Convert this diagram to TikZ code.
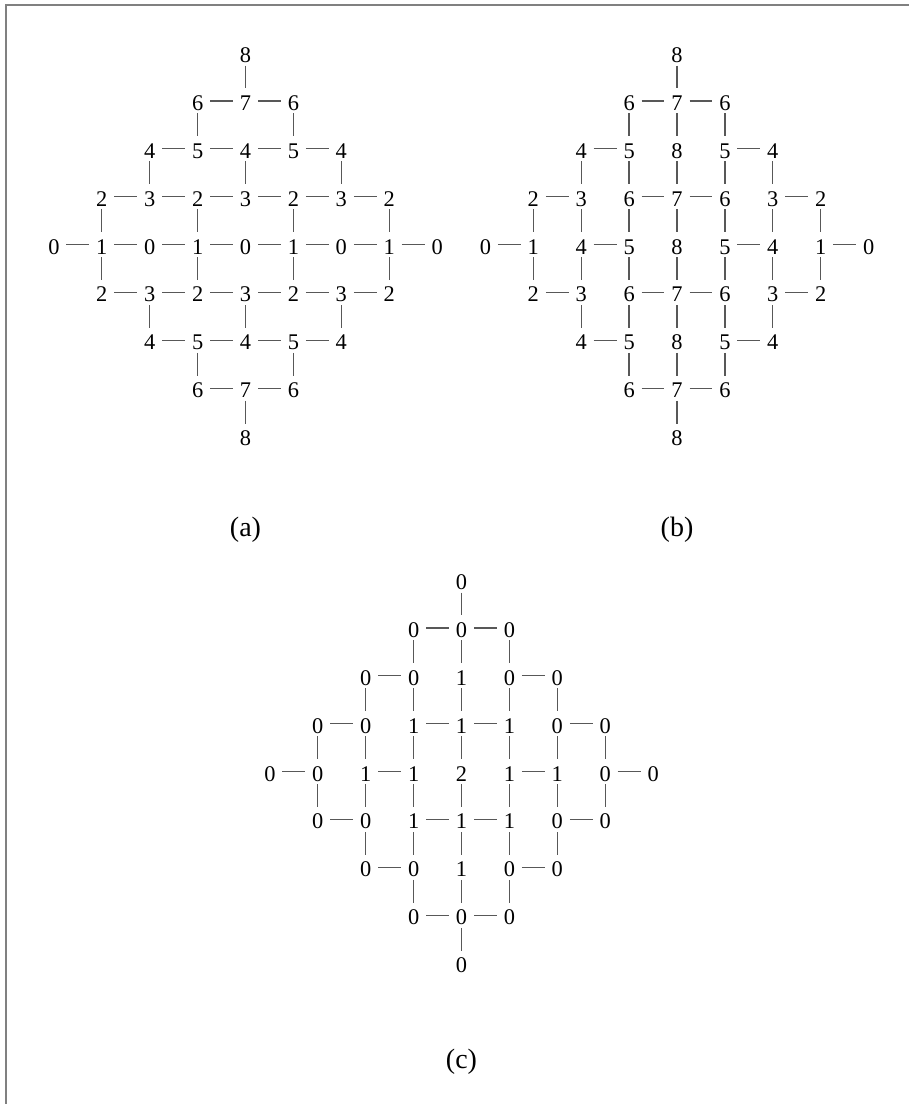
\documentclass[tikz,border=0pt]{standalone}
\usepackage{fontspec}
\setmainfont{Liberation Serif}
\definecolor{edgegray}{RGB}{88,88,88}
\definecolor{framegray}{RGB}{128,128,128}

\begin{document}
\begin{tikzpicture}[x=0.75pt,y=-0.75pt,
    num/.style={circle, inner sep=0pt, minimum size=18.4pt, text height=14.2pt, text depth=0pt,
      font=\fontsize{16.8}{20}\selectfont},
    edge/.style={edgegray, line width=1pt},
    caption/.style={font=\fontsize{21}{25}\selectfont}]
  \useasboundingbox (0,0) rectangle (909,1104);
  \draw[framegray, line width=1.5pt] (5.5,1104) -- (5.5,5) -- (909,5);

  % heights: (a) plain, (b) lifted, (c) difference
  \foreach \row in {0,...,8} {
    \pgfmathtruncatemacro\cmin{abs(\row-4)}
    \pgfmathtruncatemacro\cmax{8-abs(\row-4)}
    \foreach \col in {\cmin,...,\cmax} {
      \pgfmathtruncatemacro\ha{2*abs(\row-4)+mod(\col+\row,2)}
      \pgfmathtruncatemacro\hc{floor((4-abs(\row-4)-abs(\col-4))/2)}
      \pgfmathtruncatemacro\hb{\ha+4*\hc}
      \node[num] (a-\row-\col) at ({245.5+47.9*(\col-4)},{53+47.9*\row}) {\ha};
      \node[num] (b-\row-\col) at ({677+47.9*(\col-4)},{53+47.9*\row}) {\hb};
      \node[num] (c-\row-\col) at ({461.5+47.9*(\col-4)},{580+47.9*\row}) {\hc};
    }
  }

  % horizontal edges
  \foreach \row in {1,...,7} {
    \pgfmathtruncatemacro\cmin{abs(\row-4)}
    \pgfmathtruncatemacro\clast{7-abs(\row-4)}
    \foreach \col in {\cmin,...,\clast} {
      \pgfmathtruncatemacro\nxt{\col+1}
      \pgfmathtruncatemacro\keep{mod(2*abs(\row-4)+abs(2*\col-7)+1,4)}
      \draw[edge] (a-\row-\col) -- (a-\row-\nxt);
      \ifnum\keep=0
        \draw[edge] (b-\row-\col) -- (b-\row-\nxt);
        \draw[edge] (c-\row-\col) -- (c-\row-\nxt);
      \fi
    }
  }

  % vertical edges
  \foreach \row in {0,...,7} {
    \pgfmathtruncatemacro\nxt{\row+1}
    \pgfmathtruncatemacro\narrow{\row<4 ? \row : \nxt}
    \pgfmathtruncatemacro\cmin{abs(\narrow-4)}
    \pgfmathtruncatemacro\cmax{8-abs(\narrow-4)}
    \foreach \col in {\cmin,...,\cmax} {
      \pgfmathtruncatemacro\odd{mod(\col+\narrow,2)}
      \ifnum\odd=0
        \draw[edge] (a-\row-\col) -- (a-\nxt-\col);
      \fi
      \draw[edge] (b-\row-\col) -- (b-\nxt-\col);
      \draw[edge] (c-\row-\col) -- (c-\nxt-\col);
    }
  }

  \node[caption] (cap-a) at (245.5,530) {(a)};
  \node[caption] (cap-b) at (677,530) {(b)};
  \node[caption] (cap-c) at (461.5,1062) {(c)};
\end{tikzpicture}
\end{document}
